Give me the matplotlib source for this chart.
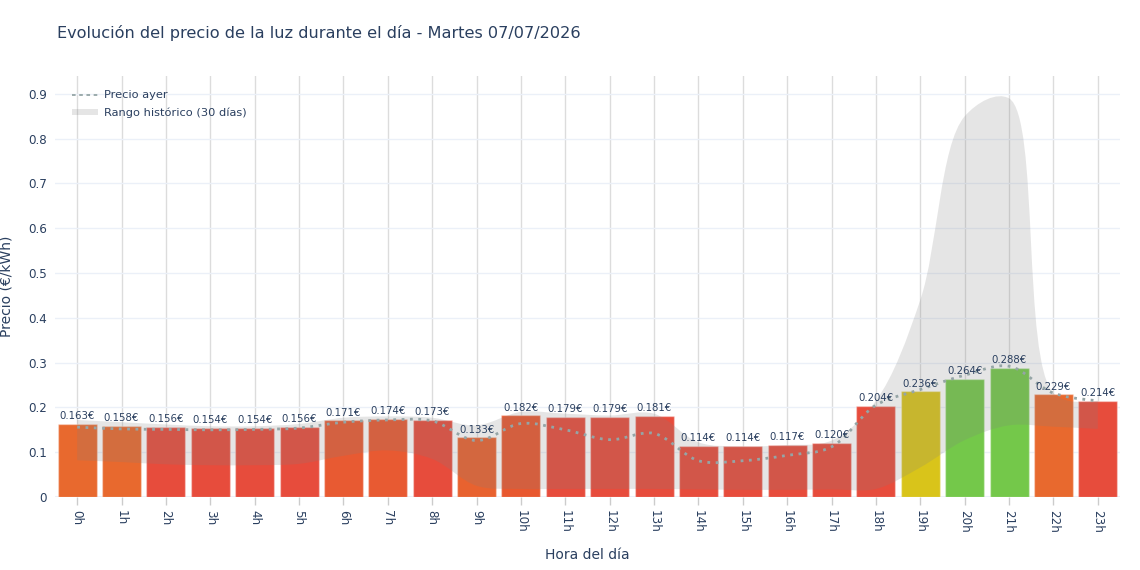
import matplotlib
matplotlib.use('Agg')
import matplotlib.pyplot as plt
from matplotlib.path import Path
from matplotlib.patches import PathPatch, Patch
from matplotlib.lines import Line2D

# datos del día
horas = list(range(24))
etiquetas = ['%dh' % h for h in horas]
precio_hoy = [0.163, 0.158, 0.156, 0.154, 0.154, 0.156, 0.171, 0.174, 0.173, 0.133,
              0.182, 0.179, 0.179, 0.181, 0.114, 0.114, 0.117, 0.120, 0.204, 0.236,
              0.264, 0.288, 0.229, 0.214]
precio_ayer = [0.156, 0.152, 0.151, 0.150, 0.151, 0.154, 0.167, 0.172, 0.170, 0.126,
               0.164, 0.150, 0.128, 0.142, 0.081, 0.081, 0.093, 0.112, 0.205, 0.240,
               0.272, 0.292, 0.232, 0.215]
hist_max = [0.172, 0.167, 0.162, 0.158, 0.158, 0.163, 0.177, 0.180, 0.177, 0.160,
            0.190, 0.186, 0.182, 0.186, 0.122, 0.113, 0.116, 0.126, 0.215, 0.440,
            0.850, 0.890, 0.232, 0.215]
hist_min = [0.082, 0.078, 0.073, 0.071, 0.071, 0.074, 0.092, 0.104, 0.085, 0.025,
            0.018, 0.018, 0.018, 0.018, 0.017, 0.016, 0.016, 0.017, 0.018, 0.066,
            0.127, 0.160, 0.157, 0.152]
colores = ['#e8692e', '#e8692e', '#e74c3c', '#e74c3c', '#e74c3c', '#e74c3c',
           '#e85a32', '#e85a32', '#e74c3c', '#e8622f', '#e8582f', '#e74c3c',
           '#e74c3c', '#e74c3c', '#e74c3c', '#e74c3c', '#e74c3c', '#e74c3c',
           '#e74c3c', '#d9c41a', '#74c84a', '#74c84a', '#e8692e', '#e74c3c']

TXT = '#2a3f5f'
YMAX = 0.94
SX = 1065 / 24.0      # px por hora
SY = 421 / YMAX       # px por unidad de precio


def tangente(p0, p1, p2, s=1.0):
    d1x, d1y = p0[0] - p1[0], p0[1] - p1[1]
    d2x, d2y = p2[0] - p1[0], p2[1] - p1[1]
    d1a = (d1x * d1x + d1y * d1y) ** 0.25
    d2a = (d2x * d2x + d2y * d2y) ** 0.25
    nx = (d2a * d2a * d1x - d1a * d1a * d2x) * s
    ny = (d2a * d2a * d1y - d1a * d1a * d2y) * s
    den1 = 3 * d2a * (d1a + d2a)
    den2 = 3 * d1a * (d1a + d2a)
    return ((p1[0] + nx / den1, p1[1] + ny / den1),
            (p1[0] - nx / den2, p1[1] - ny / den2))


def spline(xs, ys):
    # curva suave tipo plotly (spline), calculada en pixeles
    pts = [(x * SX, y * SY) for x, y in zip(xs, ys)]
    n = len(pts)
    tg = [tangente(pts[i - 1], pts[i], pts[i + 1]) for i in range(1, n - 1)]
    verts = [pts[0], tg[0][0], pts[1]]
    codes = [Path.MOVETO, Path.CURVE3, Path.CURVE3]
    for i in range(2, n - 1):
        verts += [tg[i - 2][1], tg[i - 1][0], pts[i]]
        codes += [Path.CURVE4] * 3
    verts += [tg[n - 3][1], pts[n - 1]]
    codes += [Path.CURVE3, Path.CURVE3]
    verts = [(vx / SX, vy / SY) for vx, vy in verts]
    return verts, codes


fig = plt.figure(figsize=(11.4, 5.7), dpi=100)
ax = fig.add_axes([55 / 1140., 1 - 497 / 570., 1065 / 1140., 421 / 570.])

ax.bar(horas, precio_hoy, width=0.88, color=colores,
       edgecolor=(1, 1, 1, 0.35), linewidth=1, zorder=2)

# rango histórico
vu, cu = spline(horas, hist_max)
vl, cl = spline(horas[::-1], hist_min[::-1])
cl[0] = Path.LINETO
verts = vu + vl + [vu[0]]
codes = cu + cl + [Path.CLOSEPOLY]
ax.add_patch(PathPatch(Path(verts, codes), facecolor=(0.5, 0.5, 0.5, 0.2),
                       edgecolor='none', zorder=3))

# precio de ayer
va, ca = spline(horas, precio_ayer)
ax.add_patch(PathPatch(Path(va, ca), facecolor='none', edgecolor='#95a5a6',
                       linewidth=2, linestyle=(0, (1, 2)), zorder=4))

for h, p in zip(horas, precio_hoy):
    ax.annotate('%.3f€' % p, (h, p), xytext=(0, 2), textcoords='offset points',
                ha='center', va='bottom', fontsize=7.3, color=TXT, zorder=5)

ax.set_xlim(-0.5, 23.5)
ax.set_ylim(0, YMAX)
ax.set_xticks(horas)
ax.set_xticklabels(etiquetas, rotation=-90, fontsize=8.6, color=TXT)
yt = [0, 0.1, 0.2, 0.3, 0.4, 0.5, 0.6, 0.7, 0.8, 0.9]
ax.set_yticks(yt)
ax.set_yticklabels(['0'] + ['%.1f' % v for v in yt[1:]], fontsize=8.6, color=TXT)
ax.tick_params(axis='x', length=6, width=1, color='#cccccc', pad=3, direction='out')
ax.tick_params(axis='y', length=0, pad=6)
ax.grid(axis='y', color='#ebf0f8', linewidth=1, zorder=0)
ax.grid(axis='x', color='#dcdcdc', linewidth=1, zorder=0)
ax.set_axisbelow(True)
for s in ax.spines.values():
    s.set_visible(False)
ax.axhline(0, color='#ebf0f8', linewidth=1.5, zorder=1)

ax.set_xlabel('Hora del día', fontsize=10, color=TXT, labelpad=11)
ax.set_ylabel('Precio (€/kWh)', fontsize=10, color=TXT, labelpad=10)

handles = [Line2D([], [], color='#95a5a6', linewidth=1.3, linestyle=(0, (2, 2))),
           Patch(facecolor=(0.5, 0.5, 0.5, 0.2), edgecolor='none')]
leg = ax.legend(handles, ['Precio ayer', 'Rango histórico (30 días)'],
                loc='upper left', bbox_to_anchor=(0.006, 0.99), frameon=False,
                fontsize=8.2, labelcolor=TXT, handlelength=2.3, handleheight=0.4,
                handletextpad=0.5, labelspacing=0.6)

fig.text(57 / 1140., 1 - 33 / 570., 'Evolución del precio de la luz durante el día - Martes 07/07/2026',
         fontsize=11.6, color=TXT, ha='left', va='center')

fig.savefig('out.png', dpi=100)
